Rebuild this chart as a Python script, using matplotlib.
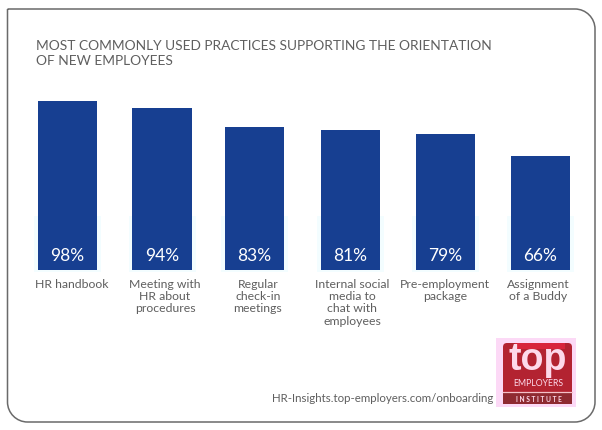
import matplotlib
matplotlib.use('Agg')
import matplotlib.pyplot as plt
from matplotlib.patches import FancyBboxPatch, Rectangle, PathPatch
from matplotlib.path import Path

practices = ['HR handbook', 'Meeting with\nHR about\nprocedures', 'Regular\ncheck-in\nmeetings',
             'Internal social\nmedia to\nchat with\nemployees', 'Pre-employment\npackage', 'Assignment\nof a Buddy']
percent = [98, 94, 83, 81, 79, 66]
title = 'MOST COMMONLY USED PRACTICES SUPPORTING THE ORIENTATION\nOF NEW EMPLOYEES'
source = 'HR-Insights.top-employers.com/onboarding'

W, H = 602, 430
FONT = 'Lato'
GREY = '#5f5f5f'

# layout in pixels, the bars are not quite evenly spaced in the original
bar_centres = [67.5, 162, 254.5, 350.5, 445.5, 540.5]
label_centres = [72, 165, 258, 352, 445, 538]

fig = plt.figure(figsize=(W / 100, H / 100), dpi=100, facecolor='white')

# overlay in pixel coords for the frame, text and logo
bg = fig.add_axes([0, 0, 1, 1])
bg.set_xlim(0, W)
bg.set_ylim(H, 0)
bg.axis('off')

# frame: top-left corner is square, the others rounded
l, r, t, b, c = 7.5, 595, 9, 422, 20
k = c * 0.45
verts = [(l, t), (r - c, t), (r - k, t), (r, t + k), (r, t + c), (r, b - c), (r, b - k), (r - k, b), (r - c, b),
         (l + c, b), (l + k, b), (l, b - k), (l, b - c), (l, t)]
codes = [Path.MOVETO, Path.LINETO, Path.CURVE4, Path.CURVE4, Path.CURVE4, Path.LINETO, Path.CURVE4, Path.CURVE4,
         Path.CURVE4, Path.LINETO, Path.CURVE4, Path.CURVE4, Path.CURVE4, Path.LINETO]
bg.add_patch(PathPatch(Path(verts, codes), fc='white', ec='#6a6a6a', lw=1.1))

bg.text(36, 53.5, title, fontsize=9.95, color=GREY, family=FONT, va='center', ha='left', linespacing=1.34)

# pale halo round the foot of the bars, as in the source jpeg
for x in bar_centres:
    bg.add_patch(Rectangle((x - 33.5, 216), 67, 55.5, fc='#f3fdff', ec='none'))

# bars, axes box runs from 0 at y=270 to 98 at y=101
ax = fig.add_axes([0, 1 - 270 / H, 1, (270 - 101) / H])
ax.patch.set_alpha(0)
ax.bar(bar_centres, percent, width=59.5, color='#173f91')
ax.set_xlim(0, W)
ax.set_ylim(0, 98)
ax.axis('off')

for x, p in zip(bar_centres, percent):
    ax.annotate(f'{p}%', (x, 0), xytext=(0, 4), textcoords='offset points', ha='center', va='bottom',
                color='white', fontsize=12.5, family=FONT)

for x, name in zip(label_centres, practices):
    bg.text(x, 278.5, name, ha='center', va='top', color=GREY, fontsize=8.8, family=FONT, linespacing=1.16)

bg.text(493, 399, source, fontsize=8.25, color=GREY, family=FONT, ha='right', va='center')

# logo
LOGO_TEXT = '#fdd9ea'
bg.add_patch(Rectangle((496, 338), 80, 69, fc='#fcd9f6', ec='none'))
bg.add_patch(FancyBboxPatch((505, 345), 65, 57, boxstyle='round,pad=2,rounding_size=4', fc='#b32331', ec='none'))
bg.add_patch(Rectangle((515, 343), 50, 6, fc='#d8253c', ec='none'))
bg.add_patch(Rectangle((503, 393), 69, 11, fc='#8f2a31', ec='none'))
bg.plot([503, 572], [391.5, 391.5], color='#f4c0c8', lw=0.9)
bg.text(537.5, 360, 'top', fontsize=27, fontweight='bold', color=LOGO_TEXT, family='Liberation Sans', ha='center', va='center')
bg.text(538.5, 384, 'EMPLOYERS', fontsize=6.3, color=LOGO_TEXT, family=FONT, ha='center', va='center')
bg.text(538.5, 399, 'I N S T I T U T E', fontsize=4.8, color=LOGO_TEXT, family=FONT, fontweight='bold', ha='center', va='center')

fig.savefig('out.png', dpi=100)
